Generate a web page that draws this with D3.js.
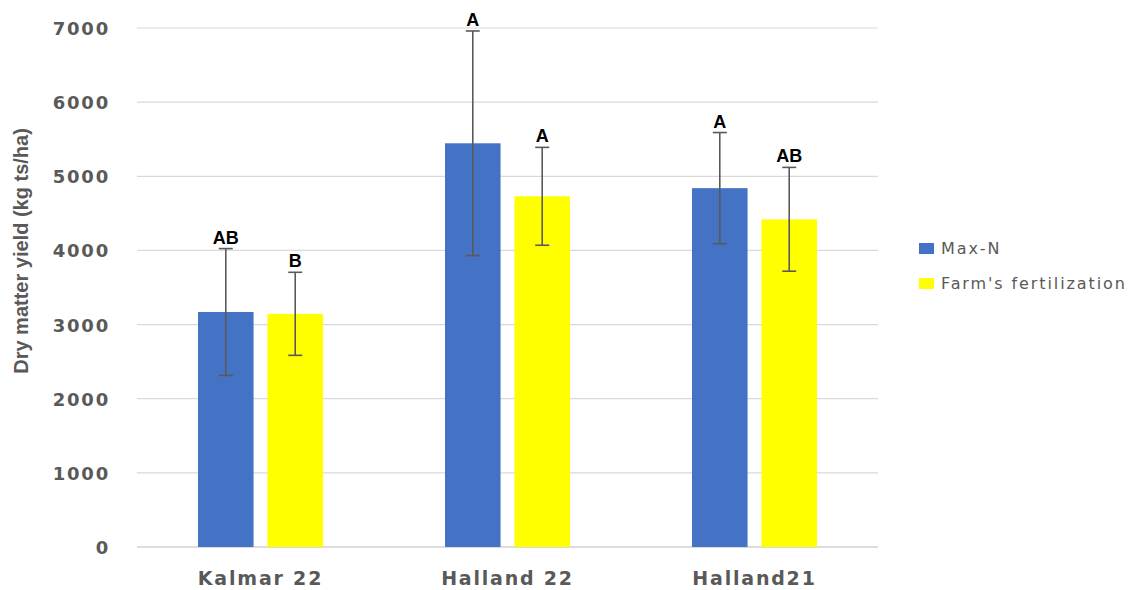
<!DOCTYPE html>
<html>
<head>
<meta charset="utf-8">
<script src="https://cdn.jsdelivr.net/npm/d3@7"></script>
<style>
  html, body { margin: 0; padding: 0; background: #fff; }
  svg { display: block; }
</style>
</head>
<body>
<svg id="chart" width="1143" height="590"></svg>
<script>
// Dry matter yield per site and fertilization strategy
const sites = ["Kalmar 22", "Halland 22", "Halland21"];
const seriesNames = ["Max-N", "Farm's fertilization"];
const seriesColors = ["#4472C4", "#FFFF00"];
const maxN = [3170, 5445, 4840];
const farm = [3145, 4730, 4420];
const maxNErr = [855, 1515, 750];
const farmErr = [560, 660, 700];
const maxNLetters = ["AB", "A", "A"];
const farmLetters = ["B", "A", "AB"];
const yTicks = [0, 1000, 2000, 3000, 4000, 5000, 6000, 7000];

const rows = sites.map((s, i) => ({
  site: s,
  bars: [
    { k: 0, v: maxN[i], e: maxNErr[i], l: maxNLetters[i] },
    { k: 1, v: farm[i], e: farmErr[i], l: farmLetters[i] }
  ]
}));

const svg = d3.select("#chart");
const m = { left: 137, right: 265, top: 28, bottom: 43 };
const W = 1143, H = 590;

const x = d3.scaleBand().domain(sites).range([m.left, W - m.right]).paddingInner(0).paddingOuter(0);
const y = d3.scaleLinear().domain([0, 7000]).range([H - m.bottom, m.top]);
const inner = d3.scaleBand().domain([0, 1]).range([x.bandwidth() * 0.247, x.bandwidth() * 0.753]).paddingInner(0.2);

// grid
svg.append("g")
  .selectAll("line")
  .data(yTicks)
  .join("line")
  .attr("x1", m.left).attr("x2", W - m.right)
  .attr("y1", d => y(d)).attr("y2", d => y(d))
  .attr("stroke", d => d === 0 ? "#d0d0d0" : "#d9d9d9")
  .attr("stroke-width", d => d === 0 ? 1.6 : 1.2);

// y axis labels
const yAxis = d3.axisLeft(y).tickValues(yTicks).tickSize(0).tickPadding(0).tickFormat(d3.format("d"));
const ya = svg.append("g").attr("transform", `translate(110,0)`).call(yAxis);
ya.select(".domain").remove();
ya.selectAll("text")
  .attr("font-family", "DejaVu Sans, Verdana, sans-serif")
  .attr("font-weight", "bold")
  .attr("font-size", 18)
  .attr("letter-spacing", 1.8)
  .attr("fill", "#595959")
  .attr("dy", "0.36em");

// x axis labels
const xAxis = d3.axisBottom(x).tickSize(0).tickPadding(0);
const xa = svg.append("g").attr("transform", `translate(0,${H - m.bottom})`).call(xAxis);
xa.select(".domain").remove();
xa.selectAll("text")
  .attr("font-family", "DejaVu Sans, Verdana, sans-serif")
  .attr("font-weight", "bold")
  .attr("font-size", 19)
  .attr("letter-spacing", 1.8)
  .attr("fill", "#595959")
  .attr("dy", 0)
  .attr("y", 38);

// y title
svg.append("text")
  .attr("transform", `translate(28,251) rotate(-90)`)
  .attr("text-anchor", "middle")
  .attr("font-family", "Liberation Sans Narrow, Arial Narrow, sans-serif")
  .attr("font-weight", "bold")
  .attr("font-size", 20)
  .attr("fill", "#595959")
  .text("Dry matter yield (kg ts/ha)");

// bars
const groups = svg.append("g").selectAll("g")
  .data(rows).join("g")
  .attr("transform", d => `translate(${x(d.site)},0)`);

groups.selectAll("rect")
  .data(d => d.bars).join("rect")
  .attr("x", d => inner(d.k))
  .attr("width", inner.bandwidth())
  .attr("y", d => y(d.v))
  .attr("height", d => y(0) - y(d.v))
  .attr("fill", d => seriesColors[d.k]);

// error bars
const eb = groups.selectAll("g.err")
  .data(d => d.bars).join("g").attr("class", "err")
  .attr("transform", d => `translate(${inner(d.k) + inner.bandwidth() / 2},0)`);
eb.append("line")
  .attr("y1", d => y(d.v + d.e)).attr("y2", d => y(d.v - d.e))
  .attr("stroke", "#595959").attr("stroke-width", 1.6);
eb.selectAll("line.cap")
  .data(d => [d.v + d.e, d.v - d.e]).join("line").attr("class", "cap")
  .attr("x1", -7).attr("x2", 7)
  .attr("y1", v => y(v)).attr("y2", v => y(v))
  .attr("stroke", "#595959").attr("stroke-width", 1.6);

// significance letters
eb.append("text")
  .attr("y", d => y(d.v + d.e) - 5)
  .attr("text-anchor", "middle")
  .attr("font-family", "Liberation Sans, Arial, sans-serif")
  .attr("font-weight", "bold")
  .attr("font-size", 18)
  .attr("fill", "#000")
  .text(d => d.l);

// legend
const lg = svg.append("g").attr("transform", "translate(919,248)");
const li = lg.selectAll("g").data(seriesNames).join("g")
  .attr("transform", (d, i) => `translate(0,${i * 35})`);
li.append("rect").attr("x", 0).attr("y", -5).attr("width", 15).attr("height", 11)
  .attr("fill", (d, i) => seriesColors[i]);
li.append("text").attr("x", 22).attr("dy", "0.38em")
  .attr("font-family", "DejaVu Sans, Verdana, sans-serif")
  .attr("font-size", 16)
  .attr("letter-spacing", 1.9)
  .attr("fill", "#595959")
  .text(d => d);
</script>
</body>
</html>
